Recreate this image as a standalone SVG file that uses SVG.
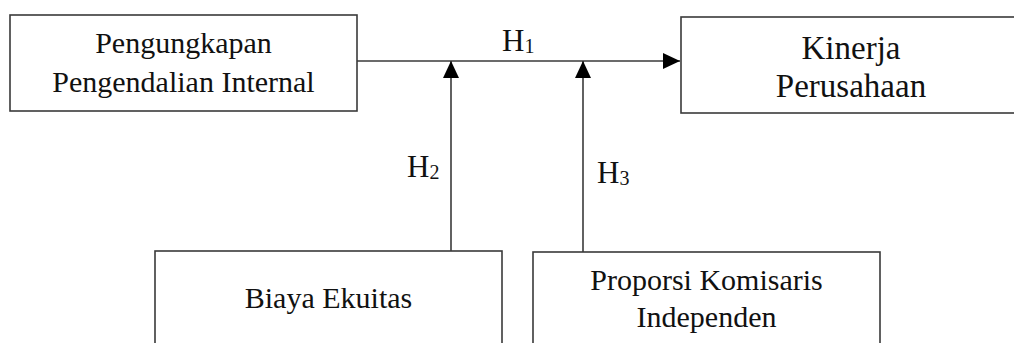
<svg xmlns="http://www.w3.org/2000/svg" width="1014" height="343" viewBox="0 0 1014 343">
<style>
.box{fill:#fff;stroke:#3a3a3a;stroke-width:1.6}
.ln{fill:none;stroke:#3a3a3a;stroke-width:1.6}
text{font-family:"Liberation Serif","Times New Roman",serif;fill:#111;text-anchor:middle}
.t{font-size:30px}
.tb{font-size:33px}
.h{font-size:31px;text-anchor:start}
.sub{font-size:20px}
</style>
<defs>
<marker id="ah" viewBox="0 0 17 16" refX="17" refY="8" markerWidth="17" markerHeight="16" markerUnits="userSpaceOnUse" orient="auto">
<path d="M0,0 L17,8 L0,16 Z" fill="#000"/>
</marker>
</defs>
<g id="n1">
<rect class="box" x="10" y="15" width="347" height="96"/>
<text class="t" x="183.5" y="53">Pengungkapan</text>
<text class="t" x="183.5" y="92">Pengendalian Internal</text>
</g>
<g id="n2">
<rect class="box" x="681" y="17" width="340" height="96"/>
<text class="tb" x="851" y="59">Kinerja</text>
<text class="tb" x="851" y="97">Perusahaan</text>
</g>
<g id="n3">
<rect class="box" x="155" y="251" width="347" height="100"/>
<text class="t" x="328.5" y="308">Biaya Ekuitas</text>
</g>
<g id="n4">
<rect class="box" x="533" y="252" width="347" height="100"/>
<text class="t" x="706.5" y="290">Proporsi Komisaris</text>
<text class="t" x="706.5" y="327">Independen</text>
</g>
<g id="connectors">
<line class="ln" x1="357" y1="61" x2="680" y2="61" marker-end="url(#ah)"/>
<line class="ln" x1="451" y1="251" x2="451" y2="61" marker-end="url(#ah)"/>
<line class="ln" x1="583" y1="252" x2="583" y2="61" marker-end="url(#ah)"/>
<text class="h" x="502" y="51">H<tspan class="sub" dy="2">1</tspan></text>
<text class="h" x="407" y="177">H<tspan class="sub" dy="2">2</tspan></text>
<text class="h" x="597" y="183">H<tspan class="sub" dy="2">3</tspan></text>
</g>
</svg>
